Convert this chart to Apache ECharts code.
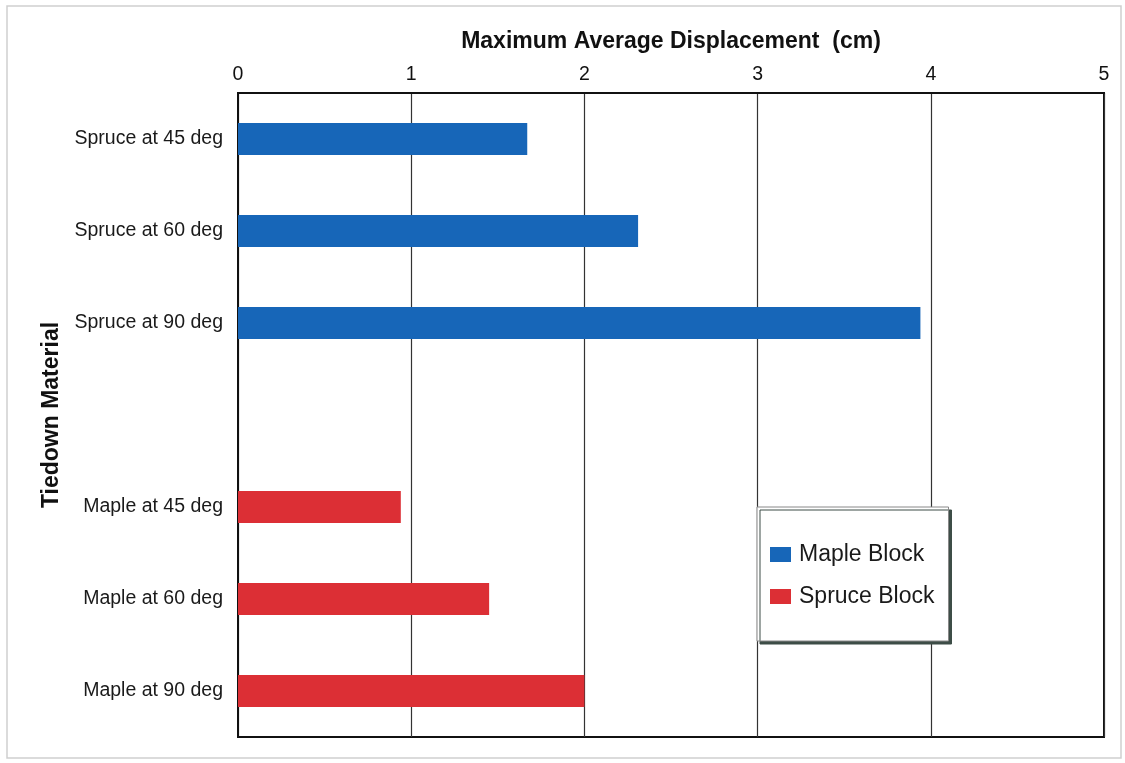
<!DOCTYPE html>
<html>
<head>
<meta charset="utf-8">
<script src="https://cdn.jsdelivr.net/npm/echarts@6/dist/echarts.min.js"></script>
<style>
html,body{margin:0;padding:0;background:#fff;}
#chart{width:1125px;height:763px;}
</style>
</head>
<body>
<div id="chart"></div>
<script>
const categories = ['Spruce at 45 deg', 'Spruce at 60 deg', 'Spruce at 90 deg', '', 'Maple at 45 deg', 'Maple at 60 deg', 'Maple at 90 deg'];
const mapleBlock = [1.67, 2.31, 3.94, null, null, null, null];
const spruceBlock = [null, null, null, null, 0.94, 1.45, 2.0];
const xTicks = [0, 1, 2, 3, 4, 5];
const seriesNames = ['Maple Block', 'Spruce Block'];
const xTitle = 'Maximum Average Displacement  (cm)';
const yTitle = 'Tiedown Material';

const chart = echarts.init(document.getElementById('chart'), null, {renderer: 'canvas'});
const font = 'Liberation Sans, Arial, sans-serif';
chart.setOption({
  backgroundColor: '#fff',
  animation: false,
  textStyle: {fontFamily: font},
  graphic: [{
    type: 'rect',
    shape: {x: 7, y: 6, width: 1114, height: 752},
    style: {fill: 'none', stroke: '#cfcfcf', lineWidth: 1.5},
    silent: true,
    z: -1
  }],
  grid: {
    left: 238, right: 21, top: 93, bottom: 26,
    show: true, borderColor: '#111', borderWidth: 2, backgroundColor: 'transparent'
  },
  legend: {
    orient: 'vertical',
    left: 757, top: 507,
    padding: [36, 14, 33, 13],
    itemWidth: 21, itemHeight: 15, itemGap: 19,
    icon: 'rect',
    backgroundColor: '#fff',
    borderColor: '#888', borderWidth: 1,
    shadowColor: '#3d4d47', shadowBlur: 0, shadowOffsetX: 3, shadowOffsetY: 3,
    textStyle: {fontSize: 23, color: '#1a1a1a', fontFamily: font, padding: [0, 0, 0, 3]},
    itemStyle: {borderWidth: 0},
    data: seriesNames
  },
  xAxis: {
    type: 'value',
    position: 'top',
    min: xTicks[0], max: xTicks[xTicks.length - 1], interval: 1,
    name: xTitle,
    nameLocation: 'middle',
    nameGap: 40,
    nameTextStyle: {fontSize: 23, fontWeight: 'bold', color: '#111', fontFamily: font},
    axisLine: {show: true, lineStyle: {color: '#111', width: 2}},
    axisTick: {show: false},
    axisLabel: {fontSize: 19.5, color: '#111', margin: 8, fontFamily: font},
    splitLine: {show: true, lineStyle: {color: '#333', width: 1.2}}
  },
  yAxis: {
    type: 'category',
    inverse: true,
    data: categories,
    name: yTitle,
    nameLocation: 'middle',
    nameGap: 162,
    nameRotate: 90,
    nameTextStyle: {fontSize: 23, fontWeight: 'bold', color: '#111', fontFamily: font},
    axisLine: {show: true, lineStyle: {color: '#111', width: 2}},
    axisTick: {show: false},
    axisLabel: {fontSize: 19.5, color: '#1a1a1a', margin: 15, fontFamily: font},
    splitLine: {show: false}
  },
  series: [{
    name: seriesNames[0],
    type: 'bar',
    stack: 'all',
    barWidth: 32,
    data: mapleBlock,
    itemStyle: {color: '#1766b8'}
  }, {
    name: seriesNames[1],
    type: 'bar',
    stack: 'all',
    barWidth: 32,
    data: spruceBlock,
    itemStyle: {color: '#dc2f35'}
  }]
});
</script>
</body>
</html>
